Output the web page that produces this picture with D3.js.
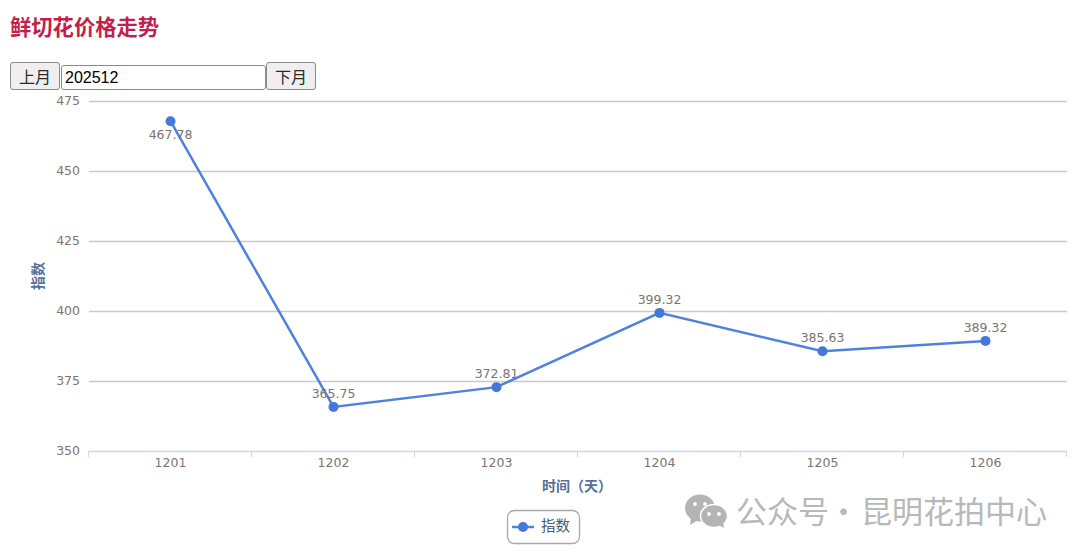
<!DOCTYPE html>
<html><head><meta charset="utf-8">
<script src="https://cdn.jsdelivr.net/npm/d3@7"></script>
<style>
html,body{margin:0;padding:0;background:#fff;width:1080px;height:556px;overflow:hidden}
svg{position:absolute;left:0;top:0}
h2{position:absolute;left:10px;top:11px;margin:0;font:bold 21.3px/30px "Noto Sans CJK SC",sans-serif;color:#c21f4c}
.b{position:absolute;box-sizing:border-box;top:62px;height:28px;width:50px;padding:0;background:#efefef;border:1px solid #8a8a8a;border-radius:3px;font:16px "Noto Sans CJK SC",sans-serif;color:#2a2a2a}
input{position:absolute;box-sizing:border-box;left:61px;top:65px;width:205px;height:25px;padding:1px 3px;border:1px solid #8a8a8a;border-radius:3px;font:16px "Liberation Sans",Arial,sans-serif;color:#000;background:#fff}
</style></head><body>
<h2>鲜切花价格走势</h2>
<button class="b" style="left:10px">上月</button>
<input value="202512">
<button class="b" style="left:266px">下月</button>
<svg id="c" width="1080" height="556"></svg>
<script>
const days=["1201","1202","1203","1204","1205","1206"];
const seriesValues=[467.78,365.75,372.81,399.32,385.63,389.32];
const labelTexts=["467.78","365.75","372.81","399.32","385.63","389.32"];
const yTicks=[350,375,400,425,450,475];
const seriesName="指数";
const xTitle="时间（天）";
const yTitle="指数";
const watermarkA="公众号";
const watermarkDot="·";
const watermarkB="昆明花拍中心";

const L=89,R=1067,T=101,B=451;
const svg=d3.select("#c");
const x=d3.scaleBand().domain(days).range([L,R]);
const y=d3.scaleLinear().domain([350,475]).range([B,T]);
const tf='"DejaVu Sans",sans-serif', cf='"Noto Sans CJK SC",sans-serif';

svg.append("g").selectAll("line").data(yTicks.filter(d=>d!==350)).join("line")
 .attr("x1",L).attr("x2",R).attr("y1",d=>y(d)+.5).attr("y2",d=>y(d)+.5)
 .attr("stroke","#c9c9c9").attr("stroke-width",1.5);
svg.append("g").selectAll("text").data(yTicks).join("text")
 .attr("x",80).attr("y",d=>y(d)+3.5).attr("text-anchor","end")
 .attr("font-family",tf).attr("font-size",12.5).attr("fill","#7c7470").text(d=>d);

const ax=svg.append("g").attr("transform",`translate(0,${B})`);
ax.call(d3.axisBottom(x).tickSize(0).tickPadding(3));
ax.select(".domain").remove();
ax.selectAll("text").attr("font-family",tf).attr("font-size",12.5).attr("fill","#7c7470").attr("dy","1em");
ax.append("line").attr("x1",L).attr("x2",R).attr("y1",.5).attr("y2",.5).attr("stroke","#ccd6eb").attr("stroke-width",1.6);
ax.selectAll("line.t").data([...days.map(d=>x(d)),R]).join("line").attr("class","t")
 .attr("x1",d=>d-.5).attr("x2",d=>d-.5).attr("y1",0).attr("y2",6).attr("stroke","#ccd6eb");

svg.append("text").attr("x",577).attr("y",491).attr("text-anchor","middle")
 .attr("font-family",cf).attr("font-weight",700).attr("font-size",14).attr("fill","#56709a").text(xTitle);
svg.append("text").attr("transform","translate(43,276) rotate(-90)").attr("text-anchor","middle")
 .attr("font-family",cf).attr("font-weight",700).attr("font-size",14).attr("fill","#56709a").text(yTitle);

const cx=d=>x(d)+x.bandwidth()/2;
const pts=days.map((d,i)=>({d,v:seriesValues[i],t:labelTexts[i]}));
svg.append("path").datum(pts).attr("fill","none").attr("stroke","#4f82dc").attr("stroke-width",2.5)
 .attr("d",d3.line().x(p=>cx(p.d)).y(p=>y(p.v)));
svg.append("g").selectAll("circle").data(pts).join("circle")
 .attr("cx",p=>cx(p.d)).attr("cy",p=>y(p.v)).attr("r",5).attr("fill","#4479db");
svg.append("g").selectAll("text").data(pts).join("text")
 .attr("x",p=>cx(p.d)).attr("y",(p,i)=>y(p.v)+(i===0?18:-9))
 .attr("text-anchor","middle").attr("font-family",tf).attr("font-size",12.5).attr("fill","#7c7470").text(p=>p.t);

const lg=svg.append("g");
lg.append("rect").attr("x",507.5).attr("y",510.5).attr("width",72).attr("height",33).attr("rx",7)
 .attr("fill","#fff").attr("stroke","#a8a8a8").attr("stroke-width",1.3);
lg.append("line").attr("x1",512).attr("x2",534).attr("y1",527).attr("y2",527).attr("stroke","#4f82dc").attr("stroke-width",2.5);
lg.append("circle").attr("cx",523).attr("cy",527).attr("r",5).attr("fill","#4479db");
lg.append("text").attr("x",541).attr("y",531).attr("font-family",cf).attr("font-size",14.5).attr("fill","#4a5a70").text(seriesName);

const wm=svg.append("g").attr("fill","#b4b4b4");
wm.append("ellipse").attr("cx",700).attr("cy",508).attr("rx",15).attr("ry",13.5);
wm.append("path").attr("d","M691 517 l-1 8 l8 -5 z");
wm.append("ellipse").attr("cx",714).attr("cy",516).attr("rx",13.5).attr("ry",11.5).attr("stroke","#fff").attr("stroke-width",1.5);
wm.append("path").attr("d","M719 525 l5 3 l-1 -6 z");
[[695,504],[705,504],[709,514],[719,514]].forEach(p=>wm.append("circle").attr("cx",p[0]).attr("cy",p[1]).attr("r",1.9).attr("fill","#fff"));
const wmText=(tx,t)=>svg.append("text").attr("x",tx).attr("y",523).attr("font-family",cf).attr("font-size",31).attr("fill","#b8b8b8").text(t);
wmText(736,watermarkA);
wmText(828,watermarkDot);
wmText(861,watermarkB);
</script></body></html>
